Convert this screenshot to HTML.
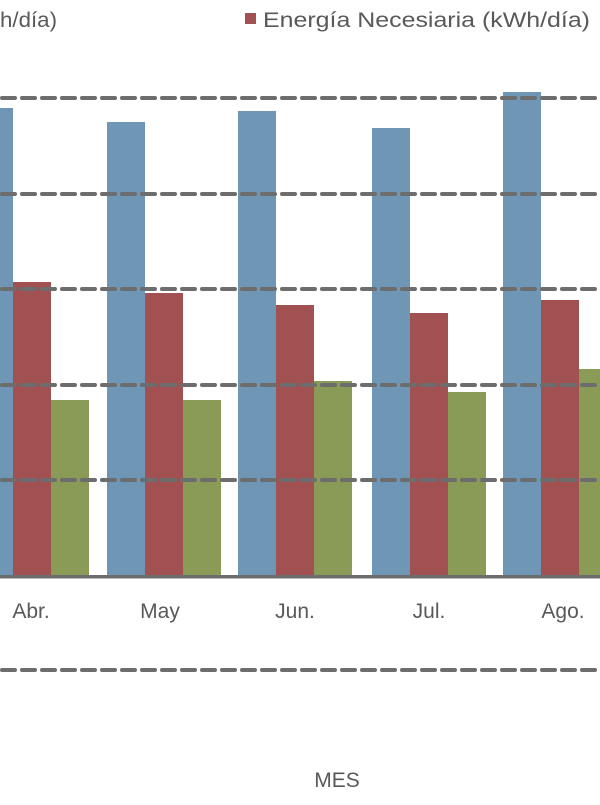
<!DOCTYPE html>
<html><head><meta charset="utf-8"><style>
body{margin:0;background:#fff;width:600px;height:800px;overflow:hidden;font-family:"Liberation Sans",sans-serif;}
</style></head><body>
<svg width="600" height="800" xmlns="http://www.w3.org/2000/svg">
<g fill="#7096b6">
<rect x="-2" y="108" width="15" height="469"/>
<rect x="107" y="122" width="38" height="455"/>
<rect x="238" y="111" width="38" height="466"/>
<rect x="372" y="128" width="38" height="449"/>
<rect x="503" y="92" width="38" height="485"/>
</g>
<g fill="#a15152">
<rect x="13" y="282" width="38" height="295"/>
<rect x="145" y="293" width="38" height="284"/>
<rect x="276" y="305" width="38" height="272"/>
<rect x="410" y="313" width="38" height="264"/>
<rect x="541" y="300" width="38" height="277"/>
</g>
<g fill="#8a9a57">
<rect x="51" y="400" width="38" height="177"/>
<rect x="183" y="400" width="38" height="177"/>
<rect x="314" y="381" width="38" height="196"/>
<rect x="448" y="392" width="38" height="185"/>
<rect x="579" y="369" width="25" height="208"/>
</g>
<g stroke="#6d6d6d" stroke-width="4" stroke-dasharray="13 7" stroke-linecap="round">
<line x1="2" y1="98" x2="600" y2="98"/>
<line x1="2" y1="194" x2="600" y2="194"/>
<line x1="2" y1="289" x2="600" y2="289"/>
<line x1="2" y1="385" x2="600" y2="385"/>
<line x1="2" y1="480" x2="600" y2="480"/>
<line x1="2" y1="670" x2="600" y2="670"/>
</g>
<rect x="0" y="575" width="600" height="3.5" fill="#6d6d6d"/>
<g fill="#595959" font-size="21" text-anchor="middle">
<text x="31" y="618">Abr.</text>
<text x="160" y="618">May</text>
<text x="295" y="618">Jun.</text>
<text x="429" y="618">Jul.</text>
<text x="563" y="618">Ago.</text>
<text x="337" y="787">MES</text>
</g>
<g fill="#595959" font-size="21">
<text x="0" y="27" textLength="57" lengthAdjust="spacingAndGlyphs">h/día)</text>
<rect x="245" y="13" width="11" height="11" fill="#a15152"/>
<text x="263" y="27" textLength="327" lengthAdjust="spacingAndGlyphs">Energía Necesiaria (kWh/día)</text>
</g>
</svg>
</body></html>
